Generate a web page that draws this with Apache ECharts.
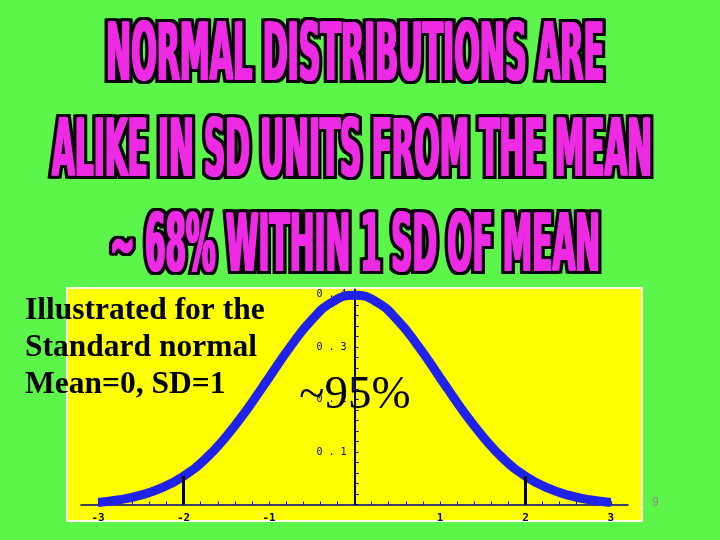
<!DOCTYPE html>
<html>
<head>
<meta charset="utf-8">
<script src="https://cdn.jsdelivr.net/npm/echarts@6/dist/echarts.min.js"></script>
<style>
  html, body { margin: 0; padding: 0; background: #5CF64A; }
  #chart { width: 720px; height: 540px; }
</style>
</head>
<body>
<div id="chart"></div>
<script>
// valeurs (densité normale standard)
var zValues = [-3, -2.75, -2.5, -2.25, -2, -1.75, -1.5, -1.25, -1, -0.75, -0.5, -0.25, 0,
    0.25, 0.5, 0.75, 1, 1.25, 1.5, 1.75, 2, 2.25, 2.5, 2.75, 3];
var density = [0.004, 0.009, 0.018, 0.032, 0.054, 0.086, 0.130, 0.183, 0.242, 0.301, 0.352, 0.387, 0.399,
    0.387, 0.352, 0.301, 0.242, 0.183, 0.130, 0.086, 0.054, 0.032, 0.018, 0.009, 0.004];
var sdBounds = [-2, 2];
var sdHeights = [0.054, 0.054];
var xTickLabels = ['-3', '-2', '-1', '1', '2', '3'];
var yTickLabels = ['0.1', '0.2', '0.3', '0.4'];

var titleLines = ['NORMAL DISTRIBUTIONS ARE', 'ALIKE IN SD UNITS FROM THE MEAN', '~ 68% WITHIN 1 SD OF MEAN'];
var noteLines = ['Illustrated for the', 'Standard normal', 'Mean=0, SD=1'];

var chart = echarts.init(document.getElementById('chart'));

// largeur des titres : on mesure puis on comprime horizontalement
var titleFont = 'bold 80px "DejaVu Sans Condensed", "DejaVu Sans", sans-serif';
var ctx = document.createElement('canvas').getContext('2d');
ctx.font = titleFont;
var titleBox = [
    { cx: 355, cy: 59, w: 498 },
    { cx: 352, cy: 155, w: 600 },
    { cx: 355, cy: 250, w: 490 }
];

var graphics = [{
    type: 'rect',
    z: -10,
    shape: { x: 67, y: 288, width: 575, height: 233 },
    style: { fill: '#FFFF00', stroke: '#FFFFE8', lineWidth: 2 },
    silent: true
}];

titleLines.forEach(function (txt, i) {
    var b = titleBox[i];
    var sx = b.w / ctx.measureText(txt).width;
    // contour noir
    [-3, -1.5, 0, 1.5, 3].forEach(function (dx) {
        graphics.push({
            type: 'text', x: b.cx + dx, y: b.cy, scaleX: sx, z: 10,
            style: {
                text: txt, font: titleFont, fill: '#000000', stroke: '#000000', lineWidth: 6,
                align: 'center', verticalAlign: 'middle'
            }
        });
    });
    // lettres magenta un peu épaissies
    [-1, 0, 1].forEach(function (dx) {
        graphics.push({
            type: 'text', x: b.cx + dx, y: b.cy, scaleX: sx, z: 11,
            style: { text: txt, font: titleFont, fill: '#EE2AE4', align: 'center', verticalAlign: 'middle' }
        });
    });
});

noteLines.forEach(function (txt, i) {
    graphics.push({
        type: 'text', x: 25, y: 311 + i * 37, z: 12,
        style: {
            text: txt, font: 'bold 31.5px "Liberation Serif", "Times New Roman", serif',
            fill: '#000000', align: 'left', verticalAlign: 'middle'
        }
    });
});

graphics.push({
    type: 'text', x: 299, y: 396, z: 12,
    style: {
        text: '~95%', font: '47px "Liberation Serif", "Times New Roman", serif',
        fill: '#000000', align: 'left', verticalAlign: 'middle'
    }
});
graphics.push({
    type: 'text', x: 652, y: 503, z: 12,
    style: { text: '9', font: '12px "Liberation Sans", sans-serif', fill: '#8A8A8A', align: 'left', verticalAlign: 'middle' }
});

function near(v, list, fmt) {
    for (var i = 0; i < list.length; i++) {
        if (Math.abs(parseFloat(list[i]) - v) < 1e-6) return fmt(list[i]);
    }
    return '';
}

var gridLeft = 81, unitX = 85.5, xMin = -3.2;

var option = {
    backgroundColor: '#5CF64A',
    animation: false,
    grid: { left: gridLeft, right: 92, top: 289.5, bottom: 35.5, show: false },
    xAxis: {
        type: 'value', min: xMin, max: 3.2, interval: 0.2,
        axisLine: { onZero: true, lineStyle: { color: '#000080', width: 1.5 } },
        axisTick: { show: true, inside: true, length: 3, lineStyle: { color: '#000080' } },
        axisLabel: {
            margin: 8, color: '#000050', fontFamily: 'DejaVu Sans Mono', fontSize: 11, fontWeight: 'bold',
            showMinLabel: false, showMaxLabel: false,
            formatter: function (v) { return near(v, xTickLabels, function (s) { return s; }); }
        },
        splitLine: { show: false }
    },
    yAxis: {
        type: 'value', min: 0, max: 0.41, interval: 0.02,
        // axe vertical placé en x = 0
        offset: -(-xMin * unitX),
        axisLine: { show: true, onZero: false, lineStyle: { color: '#000080', width: 2 } },
        axisTick: { show: true, inside: true, length: 4, lineStyle: { color: '#000080' } },
        axisLabel: {
            margin: 8, color: '#000050', fontFamily: 'DejaVu Sans Mono', fontSize: 10,
            showMaxLabel: false,
            formatter: function (v) { return near(v, yTickLabels, function (s) { return s.split('').join(' '); }); }
        },
        splitLine: { show: false }
    },
    graphic: graphics,
    series: [{
        type: 'line',
        z: 1,
        data: [],
        markLine: {
            silent: true, symbol: 'none',
            lineStyle: { color: '#000000', width: 3, type: 'solid' },
            label: { show: false },
            data: sdBounds.map(function (x, i) {
                return [{ coord: [x, 0] }, { coord: [x, sdHeights[i]] }];
            })
        }
    }, {
        type: 'line',
        z: 3,
        showSymbol: false,
        smooth: true,
        lineStyle: { color: '#1E22EC', width: 9, cap: 'butt' },
        data: zValues.map(function (x, i) { return [x, density[i]]; })
    }]
};

chart.setOption(option);
</script>
</body>
</html>
